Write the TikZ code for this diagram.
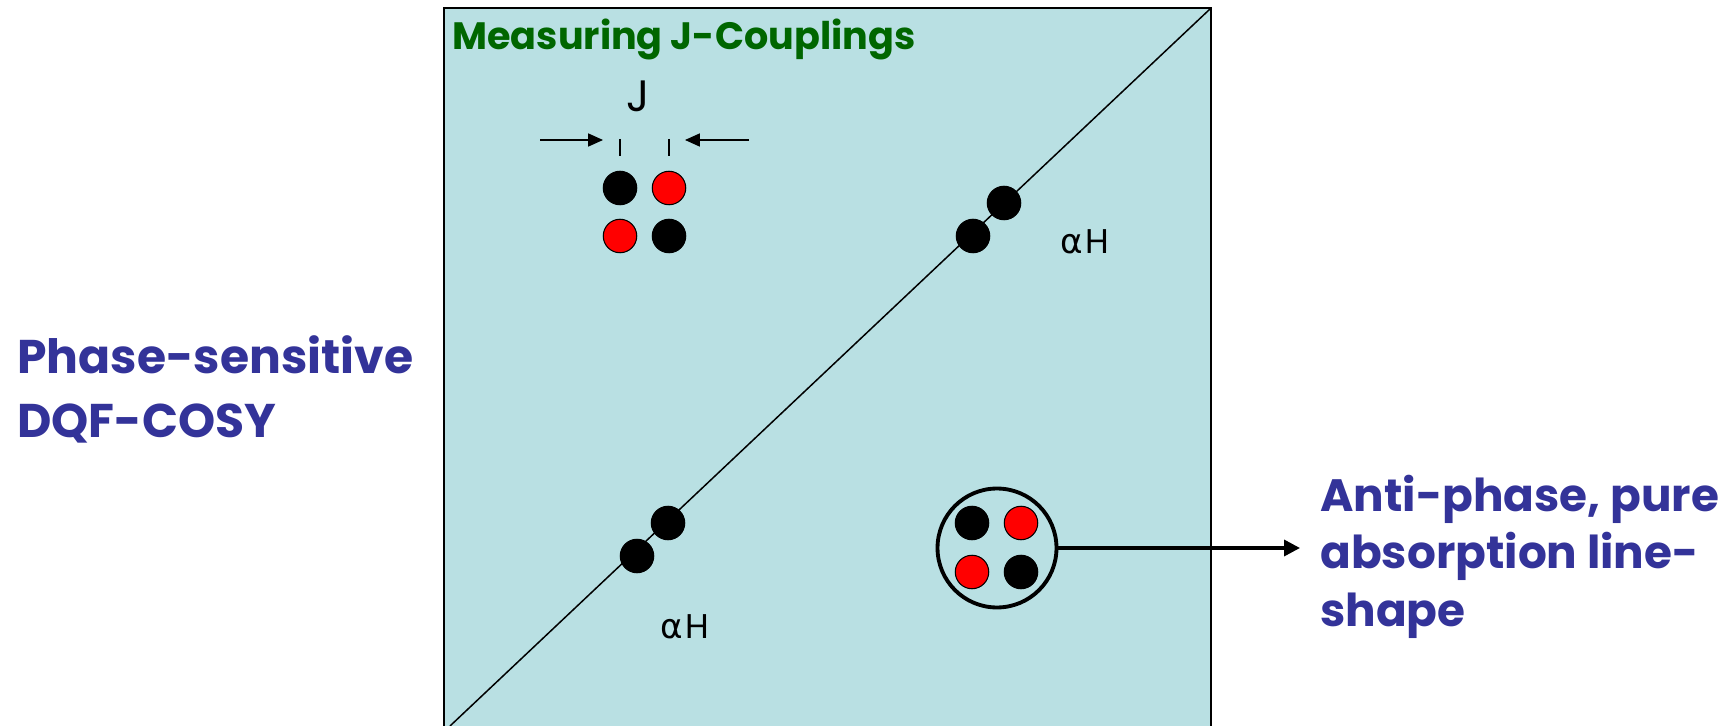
\documentclass[tikz,border=0pt]{standalone}
\usepackage{fontspec}
\setmainfont{Poppins}
\newfontfamily\greekfont{DejaVu Sans}
\usetikzlibrary{arrows.meta}
\definecolor{panel}{RGB}{185,224,227}
\definecolor{titlegreen}{RGB}{0,102,0}
\definecolor{labelblue}{RGB}{51,51,153}
\definecolor{dotred}{RGB}{255,0,0}
\begin{document}
\begin{tikzpicture}[x=0.02cm,y=-0.02cm,
  dotbase/.style={circle,inner sep=0pt,minimum size=0.67cm,draw=black,line width=0.6pt},
  blackdot/.style={dotbase,fill=black},
  reddot/.style={dotbase,fill=dotred},
  sidetext/.style={text=labelblue,anchor=base west,inner sep=0pt,align=left},
  smalllabel/.style={font=\fontsize{19.5pt}{19.5pt}\selectfont,inner sep=0pt},
  thinarrow/.style={line width=0.6pt,-{Triangle[length=8.5pt,width=7.5pt]}},
  thickarrow/.style={line width=2pt,-{Triangle[length=9pt,width=9pt]}}]
\useasboundingbox (0,0) rectangle (1735,726);
\clip (0,0) rectangle (1735,726);
% panel
\draw[fill=panel,line width=0.85pt] (444,8) rectangle (1211,760);
\coordinate (diagA) at (450,726);
\coordinate (diagB) at (1210,9);
\draw[line width=0.85pt] (diagA) -- (diagB);
% title
\node[font=\bfseries\fontsize{21.7pt}{21.7pt}\selectfont,text=titlegreen,anchor=base west,inner sep=0pt] (title) at (452,50) {Measuring J-Couplings};
% J label and arrows
\node[font=\fontsize{25pt}{25pt}\selectfont,inner sep=0pt,anchor=base] (jlab) at (638,112) {J};
\coordinate (la0) at (540,140); \coordinate (la1) at (603,140);
\coordinate (ra0) at (749,140); \coordinate (ra1) at (685,140);
\draw[thinarrow] (la0) -- (la1);
\draw[thinarrow] (ra0) -- (ra1);
\coordinate (t1a) at (620,139); \coordinate (t1b) at (620,156);
\coordinate (t2a) at (669,139); \coordinate (t2b) at (669,156);
\draw[line width=0.6pt] (t1a) -- (t1b);
\draw[line width=0.6pt] (t2a) -- (t2b);
% top-left cluster
\node[blackdot] (q1) at (620,188) {};
\node[reddot] (q2) at (669,188) {};
\node[reddot] (q3) at (620,236) {};
\node[blackdot] (q4) at (669,236) {};
% diagonal peaks
\node[blackdot] (u1) at (1004,203) {};
\node[blackdot] (u2) at (973,236) {};
\node[blackdot] (l1) at (668,523) {};
\node[blackdot] (l2) at (637,556) {};
\node[smalllabel] (uh) at (1085,242) {{\greekfont α}\hspace{1.5pt}H};
\node[smalllabel] (lh) at (685,627) {{\greekfont α}\hspace{1.5pt}H};
% circled cluster
\node[circle,draw=black,line width=2.2pt,minimum size=2.38cm,inner sep=0pt] (grp) at (997,548) {};
\node[blackdot] (c1) at (972,523) {};
\node[reddot] (c2) at (1021,523) {};
\node[reddot] (c3) at (972,572) {};
\node[blackdot] (c4) at (1021,572) {};
\coordinate (arrowend) at (1300,548);
\draw[thickarrow] (grp.east) -- (arrowend);
% side texts
\node[sidetext,font=\bfseries\fontsize{26.9pt}{36.3pt}\selectfont] (left) at (17,437) {Phase-sensitive\\DQF-COSY};
\node[sidetext,font=\bfseries\fontsize{25.8pt}{32.6pt}\selectfont] (right) at (1320,626) {Anti-phase, pure\\absorption line-\\shape};
\end{tikzpicture}
\end{document}
